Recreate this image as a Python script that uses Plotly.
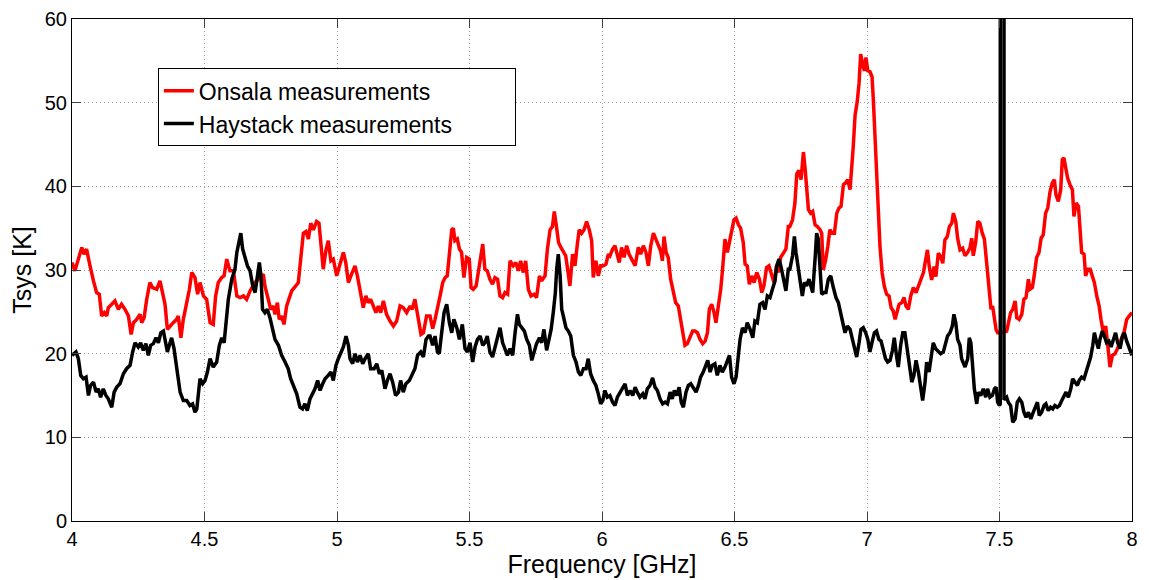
import plotly.graph_objects as go

# ---------------- Onsala measurements (red) ----------------
onsala_freq = [
    4.000, 4.011, 4.024, 4.037, 4.045, 4.055, 4.068, 4.074, 4.081, 4.093,
    4.103, 4.112, 4.122, 4.131, 4.137, 4.150, 4.162, 4.175, 4.187, 4.200,
    4.213, 4.223, 4.232, 4.244, 4.257, 4.263, 4.272, 4.282, 4.294, 4.304,
    4.320, 4.332, 4.342, 4.351, 4.360, 4.370, 4.382, 4.395, 4.401, 4.411,
    4.420, 4.433, 4.443, 4.452, 4.464, 4.474, 4.483, 4.496, 4.508, 4.521,
    4.533, 4.542, 4.552, 4.565, 4.574, 4.584, 4.596, 4.609, 4.622, 4.634,
    4.647, 4.659,
    4.672, 4.690, 4.705,
    4.722, 4.728, 4.735, 4.741, 4.750, 4.760, 4.766, 4.775, 4.782, 4.791,
    4.800, 4.810, 4.820, 4.829, 4.842, 4.854, 4.863, 4.873, 4.883, 4.892,
    4.901, 4.911, 4.923, 4.932, 4.940, 4.948, 4.958, 4.967, 4.977, 4.986,
    4.999, 5.011, 5.024, 5.033, 5.043, 5.055, 5.068, 5.077, 5.087, 5.099,
    5.109, 5.118, 5.127, 5.137, 5.147, 5.156, 5.165, 5.175, 5.187, 5.200,
    5.213, 5.225, 5.238, 5.250, 5.263, 5.276, 5.284, 5.294, 5.307, 5.317,
    5.326, 5.338,
    5.351, 5.361, 5.370, 5.379, 5.389, 5.399, 5.408, 5.416, 5.424, 5.433,
    5.439, 5.445, 5.454, 5.462, 5.470, 5.479, 5.489, 5.499, 5.506, 5.514,
    5.525, 5.533, 5.542, 5.550, 5.558, 5.567, 5.577, 5.587, 5.596, 5.606,
    5.615, 5.625, 5.634, 5.644, 5.653, 5.665, 5.675, 5.684, 5.693, 5.703,
    5.712, 5.722, 5.732, 5.743, 5.753, 5.764, 5.772, 5.785, 5.794, 5.804,
    5.813, 5.820, 5.829, 5.836, 5.845, 5.854, 5.863, 5.872, 5.879, 5.889,
    5.898, 5.907, 5.914, 5.923, 5.932, 5.942, 5.952, 5.961, 5.967, 5.977,
    5.986, 5.995, 6.005, 6.015, 6.024,
    6.030, 6.040, 6.049, 6.058, 6.065, 6.074, 6.083, 6.093, 6.102, 6.112,
    6.125, 6.137, 6.146, 6.156, 6.166, 6.175, 6.184, 6.194, 6.204, 6.213,
    6.221, 6.228, 6.234, 6.242, 6.250, 6.259, 6.269, 6.278, 6.288, 6.297,
    6.304, 6.313, 6.322, 6.332, 6.342, 6.351, 6.360, 6.370, 6.380, 6.389,
    6.398, 6.405, 6.414, 6.423, 6.430, 6.439, 6.448, 6.455, 6.464, 6.473,
    6.481, 6.489, 6.498, 6.506, 6.515, 6.523, 6.533, 6.540, 6.548, 6.556,
    6.565, 6.574, 6.584, 6.594, 6.603, 6.611, 6.621, 6.630, 6.640, 6.649,
    6.659, 6.665, 6.674, 6.684, 6.694, 6.703,
    6.709, 6.719, 6.728, 6.735, 6.743, 6.751, 6.760, 6.766, 6.772, 6.779,
    6.787, 6.795, 6.804, 6.813, 6.823, 6.829, 6.835, 6.844, 6.852, 6.860,
    6.869, 6.877, 6.886, 6.894, 6.902, 6.911, 6.919, 6.927, 6.936, 6.942,
    6.948, 6.955, 6.963, 6.970, 6.976, 6.984, 6.990, 6.996, 7.003, 7.011,
    7.019, 7.024, 7.030, 7.036, 7.043, 7.049, 7.057, 7.065, 7.074, 7.083,
    7.091, 7.099, 7.106, 7.112, 7.121, 7.131, 7.140, 7.147, 7.156, 7.165,
    7.175, 7.185, 7.194, 7.203, 7.213, 7.219, 7.228, 7.235, 7.244, 7.253,
    7.260, 7.269, 7.278, 7.286, 7.294, 7.303, 7.311, 7.320, 7.326, 7.335,
    7.342, 7.351, 7.361,
    7.370, 7.380, 7.389, 7.395, 7.401, 7.410, 7.418, 7.426, 7.435, 7.443,
    7.449, 7.455, 7.462, 7.468, 7.474, 7.480, 7.487, 7.493, 7.510, 7.527,
    7.533, 7.542, 7.550, 7.559, 7.565, 7.574, 7.584, 7.592, 7.600, 7.609,
    7.615, 7.624, 7.631, 7.640, 7.649, 7.657, 7.665, 7.674, 7.682, 7.691,
    7.699, 7.707, 7.713, 7.722, 7.731, 7.737, 7.743, 7.751, 7.757, 7.766,
    7.775, 7.781, 7.789, 7.798, 7.804, 7.810, 7.819, 7.825, 7.833, 7.842,
    7.850, 7.858, 7.867, 7.876, 7.883, 7.892, 7.901, 7.908, 7.917, 7.926,
    7.936, 7.945, 7.955, 7.964, 7.971, 7.980, 7.989, 8.000,
]
onsala_tsys = [
    30.9, 29.9, 31.3, 32.7, 31.9, 32.5, 30.5, 29.5, 28.7, 27.3,
    27.1, 24.5, 24.9, 24.5, 25.5, 25.9, 26.3, 25.3, 25.9, 25.3,
    24.5, 22.3, 23.7, 24.1, 24.7, 23.7, 24.3, 26.5, 28.5, 27.9,
    27.7, 28.7, 27.3, 25.9, 22.9, 23.3, 23.7, 24.1, 24.5, 21.9,
    24.1, 26.1, 27.7, 29.7, 29.1, 27.1, 28.5, 26.9, 26.5, 23.7,
    23.5, 26.9, 28.5, 29.1, 29.3, 31.3, 29.9, 29.9, 26.9, 26.7,
    26.9, 26.5,
    27.5, 28.5, 29.0,
    29.5, 28.1, 27.3, 26.5, 25.3, 25.7, 24.7, 26.1, 24.1, 24.5,
    23.5, 25.7, 26.5, 27.5, 28.0, 28.5, 31.3, 34.4, 34.6, 33.7,
    35.6, 34.8, 35.8, 35.6, 32.9, 30.1, 32.3, 33.5, 31.1, 31.3,
    29.3, 30.5, 32.1, 30.9, 28.5, 29.5, 30.5, 29.3, 27.3, 25.5,
    26.9, 26.1, 26.5, 25.7, 24.9, 25.7, 24.9, 26.3, 24.7, 23.9,
    23.3, 23.9, 25.7, 25.5, 24.9, 25.7, 25.3, 26.5, 24.1, 22.3,
    22.5, 24.5,
    24.5, 23.0, 24.1, 25.3, 26.9, 28.5, 29.1, 29.3, 31.5, 34.8,
    35.0, 33.5, 33.7, 32.5, 32.1, 29.1, 31.5, 31.3, 27.9, 27.7,
    28.1, 29.7, 31.1, 33.1, 30.1, 29.9, 28.9, 28.3, 29.1, 28.9,
    26.9, 26.7, 27.3, 27.1, 31.1, 30.5, 30.9, 29.9, 31.1, 29.7,
    31.1, 27.7, 26.9, 27.1, 26.7, 29.3, 28.7, 29.3, 32.5, 34.8,
    35.2, 37.0, 35.0, 33.3, 32.7, 32.1, 31.7, 29.7, 28.1, 31.9,
    30.5, 33.1, 34.8, 34.4, 34.8, 35.8, 34.8, 33.5, 29.1, 31.1,
    29.3, 30.5, 30.5, 30.7, 31.9,
    31.7, 32.5, 32.9, 31.9, 30.9, 32.7, 31.5, 32.9, 31.9, 31.3,
    30.5, 32.7, 31.9, 32.9, 32.1, 30.5, 32.9, 34.4, 33.7, 32.9,
    32.3, 31.1, 34.0, 32.1, 31.5, 28.9, 27.3, 26.1, 25.7, 24.0,
    22.9, 21.0, 21.2, 21.9, 22.7, 22.7, 22.5, 21.7, 21.2, 21.5,
    22.5, 25.3, 25.9, 24.9, 23.7, 25.7, 27.7, 30.1, 33.7, 32.1,
    33.3, 34.8, 36.0, 36.2, 35.4, 35.0, 33.3, 30.7, 30.5, 28.3,
    29.3, 28.5, 29.7, 28.9, 27.3, 28.1, 30.3, 30.5, 29.5, 28.5,
    30.5, 29.7, 31.5, 32.1, 32.5, 35.2,
    35.2, 36.0, 38.0, 41.5, 41.9, 40.8, 44.1, 42.3, 40.0, 37.2,
    36.8, 37.0, 35.4, 35.2, 34.8, 34.4, 30.0, 31.2, 32.8, 34.8,
    34.4, 34.4, 36.8, 37.4, 37.6, 40.2, 40.4, 40.8, 39.6, 41.9,
    44.7, 48.5, 50.1, 52.3, 55.8, 54.6, 53.8, 55.4, 53.8, 53.7,
    53.1, 50.3, 46.3, 42.3, 37.6, 32.8, 29.7, 28.1, 27.1, 26.9,
    25.5, 25.1, 24.1, 24.9, 25.9, 26.1, 26.7, 25.7, 25.3, 26.9,
    27.9, 27.3, 28.1, 29.1, 29.7, 30.8, 32.4, 30.4, 28.8, 30.4,
    29.2, 32.0, 31.6, 30.8, 33.6, 34.0, 35.2, 35.6, 36.8, 35.8,
    33.8, 32.4, 32.6,
    31.7, 32.1, 32.7, 33.8, 31.7, 33.3, 35.8, 35.6, 34.4, 33.7,
    31.7, 29.3, 27.3, 25.3, 25.7, 24.5, 22.9, 22.5, 22.5, 22.7,
    23.7, 24.9, 25.3, 26.3, 24.3, 24.1, 24.7, 26.5, 26.7, 28.9,
    27.7, 27.9, 29.3, 31.5, 32.1, 33.8, 34.2, 36.8, 37.4, 39.4,
    40.4, 40.8, 39.0, 38.2, 39.6, 43.2, 43.4, 42.0, 41.0, 40.2,
    39.6, 36.4, 38.0, 37.6, 35.2, 32.1, 31.9, 29.3, 30.1, 30.1,
    29.3, 28.5, 26.9, 25.7, 24.1, 22.5, 23.3, 21.5, 18.4, 19.8,
    20.0, 20.6, 21.3, 22.1, 22.7, 24.1, 24.5, 24.9,
]

# ---------------- Haystack measurements (black) ----------------
haystack_freq = [
    4.000, 4.015, 4.024, 4.033, 4.043, 4.053, 4.062, 4.070, 4.081, 4.091,
    4.099, 4.108, 4.118, 4.128, 4.137, 4.150, 4.159, 4.169, 4.181, 4.194,
    4.206, 4.219, 4.229, 4.238, 4.250, 4.259, 4.269, 4.279, 4.288, 4.297,
    4.307, 4.317, 4.326, 4.335, 4.345, 4.351, 4.360, 4.370, 4.376, 4.385,
    4.395, 4.408, 4.420, 4.433, 4.445, 4.455, 4.464, 4.471, 4.477, 4.483,
    4.493, 4.502, 4.511, 4.521, 4.533, 4.546, 4.556, 4.565, 4.574, 4.581,
    4.590, 4.603, 4.615, 4.622, 4.628, 4.637, 4.644, 4.653, 4.662,
    4.672, 4.682, 4.691, 4.699, 4.707, 4.713, 4.719, 4.728, 4.737, 4.747,
    4.757, 4.766, 4.779, 4.791, 4.804, 4.816, 4.825, 4.835, 4.848, 4.860,
    4.870, 4.879, 4.888, 4.898, 4.908, 4.917, 4.927, 4.936, 4.946, 4.955,
    4.967, 4.977, 4.986, 4.996, 5.005, 5.014, 5.024, 5.034, 5.043, 5.049,
    5.059, 5.068, 5.077, 5.087, 5.097, 5.106, 5.118, 5.127, 5.140, 5.150,
    5.160, 5.169, 5.181, 5.190, 5.200, 5.210, 5.221, 5.232, 5.240, 5.250,
    5.260, 5.273, 5.286, 5.294, 5.304, 5.316, 5.326, 5.336, 5.345,
    5.351, 5.361, 5.370, 5.379, 5.386, 5.395, 5.404, 5.414, 5.424, 5.433,
    5.441, 5.452, 5.462, 5.473, 5.483, 5.492, 5.502, 5.512, 5.521, 5.530,
    5.540, 5.550, 5.558, 5.567, 5.577, 5.587, 5.596, 5.606, 5.615, 5.625,
    5.634, 5.643, 5.653, 5.663, 5.672, 5.681, 5.688, 5.697, 5.707, 5.716,
    5.726, 5.735, 5.743, 5.753, 5.764, 5.772, 5.781, 5.791, 5.800, 5.808,
    5.816, 5.824, 5.829, 5.835, 5.842, 5.848, 5.854, 5.864, 5.873, 5.882,
    5.892, 5.902, 5.911, 5.920, 5.930, 5.940, 5.948, 5.957, 5.967, 5.977,
    5.986, 5.995, 6.003, 6.011, 6.020,
    6.030, 6.040, 6.049, 6.058, 6.068, 6.078, 6.087, 6.096, 6.106, 6.116,
    6.125, 6.133, 6.143, 6.154, 6.162, 6.171, 6.181, 6.191, 6.200, 6.209,
    6.219, 6.229, 6.238, 6.247, 6.257, 6.265, 6.273, 6.282, 6.291, 6.299,
    6.307, 6.317, 6.326, 6.335, 6.345, 6.355, 6.364, 6.372, 6.382, 6.391,
    6.399, 6.408, 6.416, 6.426, 6.435, 6.445, 6.454, 6.464, 6.473, 6.481,
    6.489, 6.498, 6.506, 6.512, 6.521, 6.530, 6.540, 6.548, 6.559, 6.569,
    6.577, 6.586, 6.596, 6.606, 6.615, 6.624, 6.634, 6.643, 6.653, 6.659,
    6.668, 6.676, 6.684, 6.694, 6.703,
    6.709, 6.719, 6.726, 6.732, 6.740, 6.747, 6.756, 6.764, 6.772, 6.781,
    6.789, 6.795, 6.804, 6.810, 6.816, 6.823, 6.829, 6.838, 6.845, 6.854,
    6.863, 6.873, 6.883, 6.892, 6.901, 6.908, 6.917, 6.926, 6.936, 6.945,
    6.952, 6.961, 6.970, 6.977, 6.986, 6.995, 7.003, 7.011, 7.020, 7.028,
    7.036, 7.045, 7.053, 7.062, 7.070, 7.078, 7.087, 7.096, 7.103, 7.112,
    7.118, 7.127, 7.135, 7.143, 7.152, 7.160, 7.169, 7.177, 7.185, 7.194,
    7.203, 7.210, 7.219, 7.225, 7.234, 7.242, 7.250, 7.259, 7.269, 7.278,
    7.288, 7.297, 7.304, 7.313, 7.322, 7.328, 7.335, 7.342, 7.351, 7.357,
    7.366,
    7.370, 7.380, 7.386, 7.392, 7.399, 7.405, 7.414, 7.420, 7.429, 7.439,
    7.448, 7.455, 7.464, 7.473, 7.481, 7.487, 7.493, 7.4998,
    7.5029, 7.5031, 7.5168, 7.5170,
    7.527, 7.533, 7.542, 7.550, 7.559, 7.567, 7.575, 7.584, 7.592, 7.600,
    7.609, 7.618, 7.625, 7.634, 7.643, 7.650, 7.659, 7.668, 7.675, 7.684,
    7.693, 7.701, 7.709, 7.718, 7.726, 7.735, 7.743, 7.751, 7.760, 7.769,
    7.776, 7.785, 7.794, 7.801, 7.810, 7.819, 7.826, 7.835, 7.844, 7.852,
    7.858, 7.867, 7.873, 7.879, 7.888, 7.896, 7.904, 7.913, 7.921, 7.930,
    7.938, 7.946, 7.955, 7.964, 7.971, 7.980, 7.989, 8.000,
]
haystack_tsys = [
    19.8, 20.2, 19.4, 17.4, 17.0, 17.2, 15.0, 16.2, 16.6, 15.4,
    15.8, 14.8, 15.8, 15.0, 14.6, 13.6, 15.4, 16.0, 16.4, 17.6,
    18.2, 18.6, 20.2, 21.3, 20.8, 21.3, 20.4, 21.2, 19.8, 21.0,
    21.2, 21.9, 21.3, 22.5, 22.7, 21.7, 20.2, 21.3, 21.9, 20.6,
    18.2, 15.4, 14.4, 14.4, 13.8, 14.0, 13.0, 13.4, 15.2, 17.0,
    16.4, 16.8, 17.8, 19.4, 18.4, 19.0, 21.0, 21.9, 21.3, 24.1,
    26.5, 28.9, 30.1, 32.1, 32.9, 34.4, 32.5, 31.5, 30.5,
    29.9, 28.1, 27.3, 28.9, 30.9, 29.3, 25.3, 24.9, 25.3, 24.3,
    22.9, 21.7, 21.0, 19.8, 19.0, 18.2, 17.0, 16.2, 15.2, 13.6,
    13.4, 14.0, 13.2, 14.6, 15.2, 15.8, 16.8, 15.6, 16.4, 17.0,
    17.4, 17.8, 16.8, 18.6, 19.4, 20.0, 20.8, 22.1, 21.0, 19.4,
    18.8, 20.0, 19.0, 19.8, 18.8, 19.4, 20.0, 18.2, 18.2, 18.8,
    17.6, 18.0, 15.8, 16.8, 17.6, 16.6, 15.0, 15.4, 16.8, 15.4,
    16.4, 16.8, 17.8, 18.2, 19.8, 20.2, 19.6, 21.7, 22.1,
    22.1, 21.0, 22.1, 20.2, 20.0, 22.5, 24.9, 25.9, 23.7, 22.5,
    24.1, 23.1, 21.7, 23.5, 20.6, 20.2, 21.3, 19.0, 20.8, 21.7,
    22.1, 21.0, 21.3, 22.1, 20.2, 19.6, 20.8, 21.7, 23.1, 21.3,
    20.6, 19.8, 20.6, 19.8, 22.5, 24.7, 23.5, 23.1, 22.7, 21.7,
    21.0, 19.2, 20.2, 21.2, 21.9, 21.3, 22.9, 20.4, 21.7, 22.9,
    24.9, 27.3, 30.1, 31.9, 29.3, 25.3, 24.5, 23.1, 22.7, 22.1,
    19.8, 19.0, 17.8, 17.4, 18.2, 18.2, 19.4, 17.6, 16.8, 16.2,
    15.2, 14.0, 14.4, 15.6, 14.8,
    15.0, 14.2, 13.8, 14.8, 15.4, 16.0, 16.4, 15.0, 15.6, 15.0,
    16.0, 15.4, 14.8, 15.2, 14.6, 15.8, 16.2, 17.1, 16.0, 15.6,
    14.6, 14.0, 14.2, 14.0, 15.4, 14.6, 15.6, 15.0, 16.0, 14.2,
    13.6, 15.4, 16.2, 16.4, 15.8, 15.4, 16.2, 17.2, 17.8, 18.6,
    19.2, 17.8, 18.6, 18.8, 17.4, 18.6, 17.8, 18.4, 19.2, 19.8,
    17.2, 16.4, 17.2, 19.0, 21.7, 23.1, 22.5, 23.7, 22.9, 21.9,
    23.9, 23.7, 25.9, 26.1, 25.3, 26.9, 26.7, 27.7, 28.7, 30.5,
    31.3, 30.3, 28.9, 27.5, 30.1,
    30.1, 31.7, 34.0, 32.1, 30.5, 28.5, 26.9, 28.5, 28.1, 28.9,
    27.9, 27.3, 31.3, 34.4, 33.7, 29.7, 27.1, 27.3, 27.3, 28.9,
    29.3, 27.9, 26.7, 26.1, 24.9, 23.7, 22.5, 23.3, 22.9, 21.7,
    20.6, 19.6, 21.3, 22.9, 23.1, 22.5, 21.7, 20.2, 21.5, 22.5,
    22.7, 21.7, 21.5, 20.2, 19.4, 19.0, 19.2, 20.4, 21.9, 19.6,
    18.4, 21.0, 22.5, 22.5, 20.6, 18.6, 16.6, 17.4, 19.2, 17.8,
    15.4, 14.4, 16.6, 19.0, 17.8, 19.4, 21.3, 20.6, 20.2, 20.0,
    20.2, 21.5, 22.1, 22.5, 23.3, 24.7, 23.7, 21.7, 21.0, 19.4,
    18.6,
    18.4, 19.4, 21.9, 21.3, 18.2, 15.8, 14.0, 15.4, 15.0, 15.8,
    14.8, 15.8, 14.8, 15.0, 15.8, 16.0, 14.2, 13.8,
    14.0, 300.0, 300.0, 14.5,
    14.8, 14.2, 13.8, 11.8, 12.2, 14.2, 14.6, 14.2, 13.0, 12.4,
    13.0, 12.2, 12.8, 13.6, 14.2, 12.6, 13.0, 13.8, 14.0, 13.2,
    13.6, 13.4, 13.8, 13.6, 13.8, 14.4, 15.0, 15.4, 14.8, 15.8,
    17.0, 16.6, 16.2, 16.8, 17.2, 17.0, 17.8, 18.8, 19.6, 21.0,
    22.5, 21.3, 20.6, 21.7, 22.7, 22.1, 21.3, 21.5, 20.8, 21.7,
    22.5, 21.3, 20.6, 22.1, 22.5, 21.5, 20.8, 19.8,
]

assert len(onsala_freq) == len(onsala_tsys), (len(onsala_freq), len(onsala_tsys))
assert len(haystack_freq) == len(haystack_tsys), (len(haystack_freq), len(haystack_tsys))

x_ticks = [4, 4.5, 5, 5.5, 6, 6.5, 7, 7.5, 8]
x_ticktext = ["4", "4.5", "5", "5.5", "6", "6.5", "7", "7.5", "8"]
y_ticks = [0, 10, 20, 30, 40, 50, 60]

series_names = ["Onsala measurements", "Haystack measurements"]
LEGEND_PAD = "\u00a0" * 9  # widens the legend box like the original

FONT = "Liberation Sans, Arial, Helvetica, sans-serif"

fig = go.Figure()
fig.add_trace(go.Scatter(x=onsala_freq, y=onsala_tsys, mode="lines",
                         name=series_names[0],
                         line=dict(color="#ff0000", width=3.5)))
fig.add_trace(go.Scatter(x=haystack_freq, y=haystack_tsys, mode="lines",
                         name=series_names[1] + LEGEND_PAD,
                         line=dict(color="#000000", width=3.5)))

axis_common = dict(
    showgrid=True, gridcolor="#a0a0a0", griddash="1px,3px", gridwidth=1,
    showline=True, linecolor="black", linewidth=1, mirror="ticks",
    ticks="inside", ticklen=9, tickcolor="#404040", tickwidth=1,
    zeroline=False, automargin=False,
    tickfont=dict(size=20, color="black", family=FONT),
)

fig.update_xaxes(range=[4, 8], tickvals=x_ticks, ticktext=x_ticktext,
                 title=dict(text="Frequency [GHz]", font=dict(size=25, family=FONT, color="black"), standoff=2),
                 **axis_common)
fig.update_yaxes(range=[0, 60], tickvals=y_ticks,
                 title=dict(text="Tsys [K]", font=dict(size=25, family=FONT, color="black"), standoff=8),
                 **axis_common)

# The page body adds an 8px offset at the top-left, so the figure is 8px smaller
# and its left/top margins are reduced by the same amount.
fig.update_layout(
    width=1141, height=572,
    margin=dict(l=64, r=17, t=11, b=59),
    plot_bgcolor="white", paper_bgcolor="white",
    font=dict(family=FONT, color="black"),
    showlegend=True,
    legend=dict(x=0.081, y=0.902, xanchor="left", yanchor="top",
                bgcolor="white", bordercolor="black", borderwidth=1,
                font=dict(size=23, family=FONT, color="black"),
                itemwidth=30, tracegroupgap=0),
)

fig.write_html("out.html")
